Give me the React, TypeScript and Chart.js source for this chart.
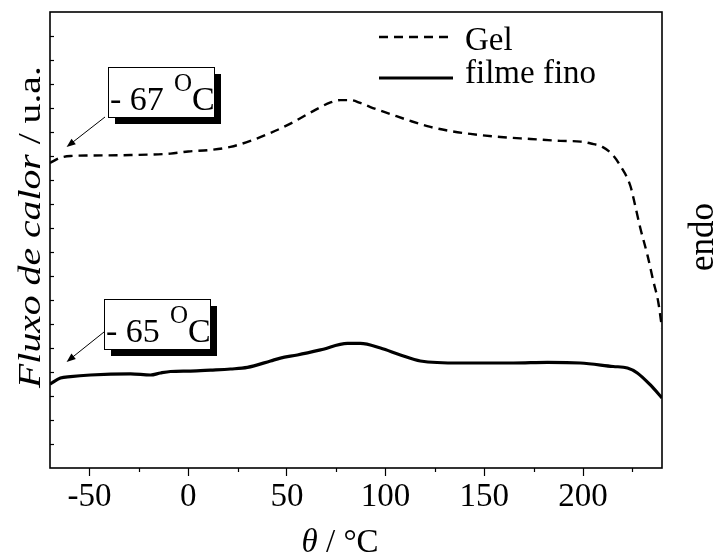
import React, { useEffect, useRef } from 'react';
import { Chart, registerables } from 'chart.js';

Chart.register(...registerables);

// ---- data (θ in °C, heat flux in arbitrary units) ----
const seriesNames = ['Gel', 'filme fino'];

const gelTemp = [-70, -65, -59.6, -49.5, -29.2, -9, 0, 11.3, 21.4, 31.5, 41.7, 51.8, 61.9, 72.1, 77.1, 82.2, 87.2, 92.3, 102.4, 112.6, 122.7, 132.8, 143, 158.2, 173.4, 188.5, 198.7, 204, 209.8, 215, 219, 224, 226.5, 229, 232.6, 235.6, 238.1, 240];
const gelFlux = [12.71, 12.92, 13.0, 13.02, 13.04, 13.1, 13.19, 13.25, 13.38, 13.63, 13.96, 14.35, 14.81, 15.23, 15.33, 15.33, 15.21, 15.04, 14.75, 14.46, 14.21, 14.04, 13.92, 13.79, 13.71, 13.63, 13.6, 13.52, 13.38, 13.05, 12.58, 11.75, 10.9, 10.0, 8.88, 7.79, 6.92, 5.83];

const filmTemp = [-70, -64.7, -59.6, -49.5, -29.2, -19.1, -14, -9, 1.2, 11.3, 21.4, 30, 41.7, 46.7, 55.3, 67, 80.7, 87.2, 97.4, 107.5, 117.6, 137.9, 164.7, 182, 198.6, 215.3, 222.5, 227.5, 234.1, 240];
const filmFlux = [3.5, 3.75, 3.81, 3.875, 3.92, 3.875, 3.96, 4.02, 4.04, 4.08, 4.125, 4.19, 4.46, 4.58, 4.71, 4.92, 5.19, 5.19, 5.0, 4.71, 4.46, 4.375, 4.375, 4.4, 4.375, 4.23, 4.17, 3.96, 3.46, 2.92];

const xTickValues = [-50, -25, 0, 25, 50, 75, 100, 125, 150, 175, 200, 225];
const xLabelValues = [-50, 0, 50, 100, 150, 200];
const yTickValues = [1, 2, 3, 4, 5, 6, 7, 8, 9, 10, 11, 12, 13, 14, 15, 16, 17, 18];

// onset annotations: label, arrow tip (θ, flux), box anchor (θ, flux)
const onsetLabels = ['- 67', '- 65'];
const onsetTipTemp = [-61.6, -61.6];
const onsetTipFlux = [13.375, 4.42];
const onsetBoxTemp = [-40.4, -42.9];
const onsetBoxFlux = [16.71, 7.04];

const SERIF = '"Liberation Serif", "Times New Roman", serif';

const decorations = {
  id: 'decorations',
  afterDraw(chart: any) {
    const { ctx, chartArea: ca, scales } = chart;
    const xs = scales.x;
    const ys = scales.y;
    ctx.save();
    // frame
    ctx.strokeStyle = '#000';
    ctx.lineWidth = 1.6;
    ctx.strokeRect(ca.left, ca.top, ca.right - ca.left, ca.bottom - ca.top);
    // minor x ticks
    ctx.lineWidth = 1.2;
    xTickValues.forEach((v) => {
      if (v % 50 !== 0) {
        const px = Math.round(xs.getPixelForValue(v)) + 0.5;
        ctx.beginPath();
        ctx.moveTo(px, ca.bottom);
        ctx.lineTo(px, ca.bottom + 4);
        ctx.stroke();
      }
    });
    // inward y ticks
    yTickValues.forEach((v) => {
      const py = Math.round(ys.getPixelForValue(v)) + 0.5;
      ctx.beginPath();
      ctx.moveTo(ca.left, py);
      ctx.lineTo(ca.left + 4, py);
      ctx.stroke();
    });

    // legend
    const ds = chart.data.datasets;
    const legendRows = [
      { y: 37, base: 50 },
      { y: 78, base: 83 },
    ];
    ds.forEach((d: any, i: number) => {
      const r = legendRows[i];
      ctx.strokeStyle = d.borderColor;
      ctx.lineWidth = d.borderWidth;
      ctx.setLineDash(d.borderDash || []);
      ctx.beginPath();
      ctx.moveTo(379, r.y);
      ctx.lineTo(453, r.y);
      ctx.stroke();
      ctx.setLineDash([]);
      ctx.fillStyle = '#000';
      ctx.font = `33px ${SERIF}`;
      ctx.textBaseline = 'alphabetic';
      ctx.textAlign = 'left';
      ctx.fillText(d.label, 465, r.base);
    });

    // onset annotations
    onsetLabels.forEach((lab, i) => {
      const bx = Math.round(xs.getPixelForValue(onsetBoxTemp[i]));
      const by = Math.round(ys.getPixelForValue(onsetBoxFlux[i]));
      const w = 106;
      const h = 50;
      ctx.fillStyle = '#000';
      ctx.fillRect(bx + 7, by + 7, w, h);
      ctx.fillStyle = '#fff';
      ctx.fillRect(bx, by, w, h);
      ctx.strokeStyle = '#000';
      ctx.lineWidth = 1;
      ctx.strokeRect(bx + 0.5, by + 0.5, w, h);
      ctx.fillStyle = '#000';
      ctx.textAlign = 'left';
      ctx.textBaseline = 'alphabetic';
      ctx.font = `34px ${SERIF}`;
      ctx.fillText(lab, bx + 2, by + 43);
      ctx.font = `25px ${SERIF}`;
      ctx.fillText('O', bx + 66, by + 24);
      ctx.font = `34px ${SERIF}`;
      ctx.fillText('C', bx + 84, by + 43);
      // arrow
      const sx = i === 0 ? bx - 3 : bx;
      const sy = i === 0 ? by + h : by + 33;
      const tx = xs.getPixelForValue(onsetTipTemp[i]);
      const ty = ys.getPixelForValue(onsetTipFlux[i]);
      const ang = Math.atan2(ty - sy, tx - sx);
      ctx.lineWidth = 1;
      ctx.beginPath();
      ctx.moveTo(sx, sy);
      ctx.lineTo(tx - 6 * Math.cos(ang), ty - 6 * Math.sin(ang));
      ctx.stroke();
      ctx.beginPath();
      ctx.moveTo(tx, ty);
      ctx.lineTo(tx - 9 * Math.cos(ang) + 3.5 * Math.sin(ang), ty - 9 * Math.sin(ang) - 3.5 * Math.cos(ang));
      ctx.lineTo(tx - 9 * Math.cos(ang) - 3.5 * Math.sin(ang), ty - 9 * Math.sin(ang) + 3.5 * Math.cos(ang));
      ctx.closePath();
      ctx.fill();
    });

    // x title: θ / °C
    ctx.fillStyle = '#000';
    ctx.textBaseline = 'alphabetic';
    ctx.textAlign = 'left';
    const xt1 = 'θ';
    const xt2 = ' / °C';
    ctx.font = `italic 33px ${SERIF}`;
    const w1 = ctx.measureText(xt1).width;
    ctx.font = `33px ${SERIF}`;
    const w2 = ctx.measureText(xt2).width;
    const xc = ca.left + (ca.right - ca.left) * 0.474;
    const x0 = xc - (w1 + w2) / 2;
    ctx.font = `italic 33px ${SERIF}`;
    ctx.fillText(xt1, x0, 552);
    ctx.font = `33px ${SERIF}`;
    ctx.fillText(xt2, x0 + w1, 552);

    // y title: Fluxo de calor / u.a.
    ctx.save();
    ctx.translate(40, (ca.top + ca.bottom) / 2 - 13);
    ctx.rotate(-Math.PI / 2);
    ctx.scale(1.24, 1);
    const yt1 = 'Fluxo de calor';
    const yt2 = ' / u.a.';
    ctx.font = `italic 32px ${SERIF}`;
    const yw1 = ctx.measureText(yt1).width;
    ctx.font = `32px ${SERIF}`;
    const yw2 = ctx.measureText(yt2).width;
    const y0 = -(yw1 + yw2) / 2;
    ctx.font = `italic 32px ${SERIF}`;
    ctx.fillText(yt1, y0, 0);
    ctx.font = `32px ${SERIF}`;
    ctx.fillText(yt2, y0 + yw1, 0);
    ctx.restore();

    // right label: endo
    ctx.save();
    ctx.translate(713, 237);
    ctx.rotate(-Math.PI / 2);
    ctx.font = `35px ${SERIF}`;
    ctx.textAlign = 'center';
    ctx.fillText('endo', 0, 0);
    ctx.restore();

    ctx.restore();
  },
};

export default function App() {
  const ref = useRef<HTMLCanvasElement | null>(null);
  useEffect(() => {
    document.body.style.margin = '0';
    const canvas = ref.current;
    if (!canvas) return;
    const chart = new Chart(canvas, {
      type: 'line',
      data: {
        datasets: [
          {
            label: seriesNames[0],
            data: gelTemp.map((t, i) => ({ x: t, y: gelFlux[i] })),
            borderColor: '#000',
            borderWidth: 2.4,
            borderDash: [9, 6],
            pointRadius: 0,
            fill: false,
            cubicInterpolationMode: 'monotone',
          },
          {
            label: seriesNames[1],
            data: filmTemp.map((t, i) => ({ x: t, y: filmFlux[i] })),
            borderColor: '#000',
            borderWidth: 3.2,
            pointRadius: 0,
            fill: false,
            cubicInterpolationMode: 'monotone',
          },
        ],
      },
      options: {
        animation: false,
        responsive: false,
        devicePixelRatio: 1,
        layout: { padding: { top: 12, right: 57, left: 0, bottom: 0 } },
        plugins: { legend: { display: false }, tooltip: { enabled: false } },
        scales: {
          x: {
            type: 'linear',
            min: -70,
            max: 240,
            afterBuildTicks: (s: any) => {
              s.ticks = xTickValues.map((v) => ({ value: v }));
            },
            afterFit: (s: any) => {
              s.height = 87;
            },
            border: { display: false },
            grid: {
              display: true,
              drawOnChartArea: false,
              drawTicks: true,
              tickLength: 8,
              tickWidth: 1.2,
              tickColor: (c: any) => (c.tick && xLabelValues.includes(c.tick.value) ? '#000' : 'rgba(0,0,0,0)'),
            },
            ticks: {
              autoSkip: false,
              maxRotation: 0,
              padding: 2,
              color: '#000',
              font: { family: SERIF, size: 33 },
              callback: (v: any) => (xLabelValues.includes(Number(v)) ? String(v) : ''),
            },
          },
          y: {
            type: 'linear',
            min: 0,
            max: 19,
            afterFit: (s: any) => {
              s.width = 50;
            },
            border: { display: false },
            grid: { display: false, drawTicks: false },
            ticks: { display: false },
          },
        },
      },
      plugins: [decorations],
    } as any);
    return () => chart.destroy();
  }, []);
  return (
    <div style={{ width: 719, height: 555, background: '#fff' }}>
      <canvas ref={ref} width={719} height={555} style={{ display: 'block' }} />
    </div>
  );
}
